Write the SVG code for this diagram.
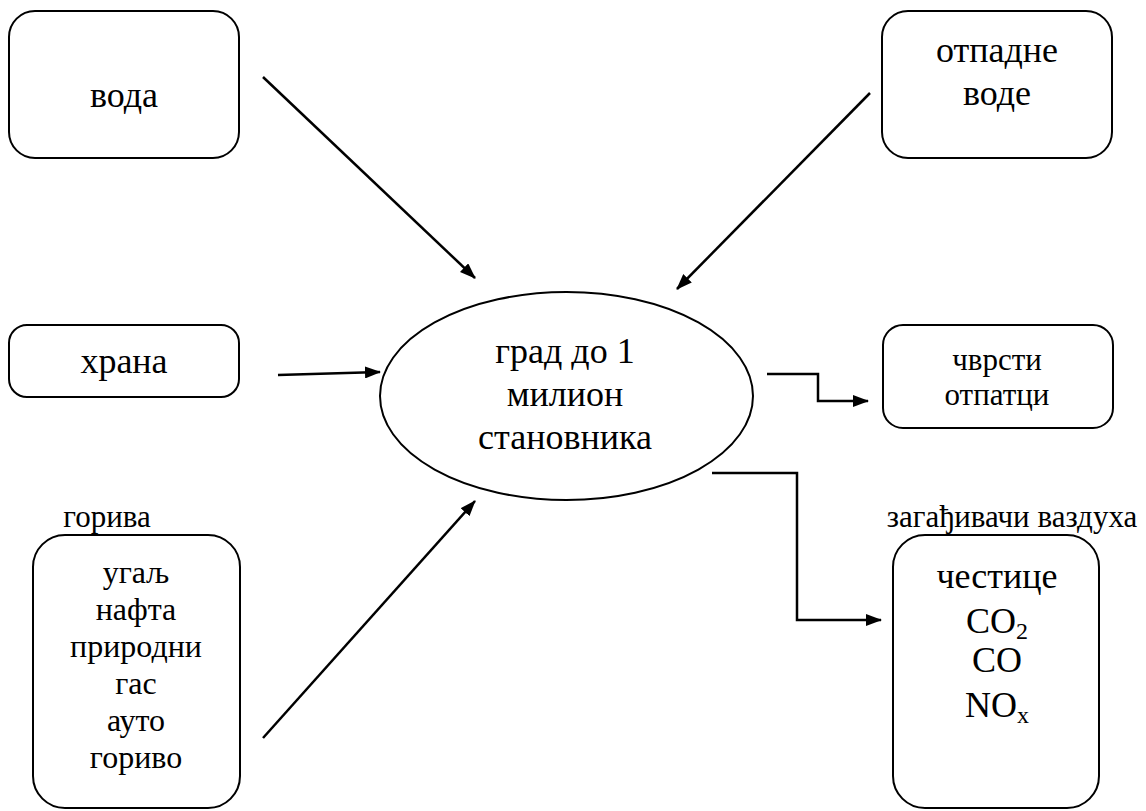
<svg xmlns="http://www.w3.org/2000/svg" width="1146" height="811" viewBox="0 0 1146 811">
<defs>
<marker id="ah" markerWidth="16" markerHeight="12" refX="15" refY="6" orient="auto" markerUnits="userSpaceOnUse">
<path d="M0,0 L16,6 L0,12 Z" fill="#000"/>
</marker>
<style>
.box{fill:#fff;stroke:#000;stroke-width:2}
.t{font-family:'Liberation Serif','Times New Roman',Tinos,'DejaVu Serif',serif;fill:#000;text-anchor:middle}
.c{fill:none;stroke:#000;stroke-width:2.5;marker-end:url(#ah)}
</style>
</defs>
<rect width="1146" height="811" fill="#fff"/>
<g id="voda">
<rect class="box" x="9" y="11" width="230" height="147" rx="26"/>
<text class="t" x="124" y="107" font-size="36">вода</text>
</g>
<g id="otpadne">
<rect class="box" x="882" y="11" width="230" height="147" rx="26"/>
<text class="t" x="997" y="62" font-size="36">отпадне</text>
<text class="t" x="997" y="105" font-size="36">воде</text>
</g>
<g id="hrana">
<rect class="box" x="9" y="325" width="230" height="72" rx="18"/>
<text class="t" x="124" y="373" font-size="36">храна</text>
</g>
<g id="grad">
<ellipse class="box" cx="566.5" cy="396" rx="186.5" ry="104"/>
<text class="t" x="565" y="363" font-size="36">град до 1</text>
<text class="t" x="565" y="406" font-size="36">милион</text>
<text class="t" x="565" y="449" font-size="36">становника</text>
</g>
<g id="cvrsti">
<rect class="box" x="883" y="325" width="230" height="103" rx="20"/>
<text class="t" x="997" y="370" font-size="31">чврсти</text>
<text class="t" x="997" y="405" font-size="31">отпатци</text>
</g>
<g id="goriva">
<text class="t" x="107" y="527" font-size="31">горива</text>
<rect class="box" x="33" y="535" width="207" height="273" rx="32"/>
<text class="t" x="136" y="583" font-size="32">угаљ</text>
<text class="t" x="136" y="620" font-size="32">нафта</text>
<text class="t" x="136" y="657" font-size="32">природни</text>
<text class="t" x="136" y="694" font-size="32">гас</text>
<text class="t" x="136" y="731" font-size="32">ауто</text>
<text class="t" x="136" y="768" font-size="32">гориво</text>
</g>
<g id="zagadjivaci">
<text class="t" x="1012" y="527" font-size="31">загађивачи ваздуха</text>
<rect class="box" x="893" y="535" width="206" height="273" rx="32"/>
<text class="t" x="997" y="588" font-size="36">честице</text>
<text class="t" x="997" y="633" font-size="36">CO<tspan font-size="24" dy="6">2</tspan></text>
<text class="t" x="997" y="672" font-size="36">CO</text>
<text class="t" x="997" y="717" font-size="36">NO<tspan font-size="24" dy="6">x</tspan></text>
</g>
<g id="connectors">
<line class="c" x1="263" y1="77" x2="475" y2="278"/>
<line class="c" x1="870" y1="93" x2="677" y2="289"/>
<line class="c" x1="278" y1="375" x2="380" y2="372"/>
<polyline class="c" points="767,374 818,374 818,401 868,401"/>
<polyline class="c" points="712,473 797,473 797,620 881,620"/>
<line class="c" x1="263" y1="738" x2="475" y2="501"/>
</g>
</svg>
